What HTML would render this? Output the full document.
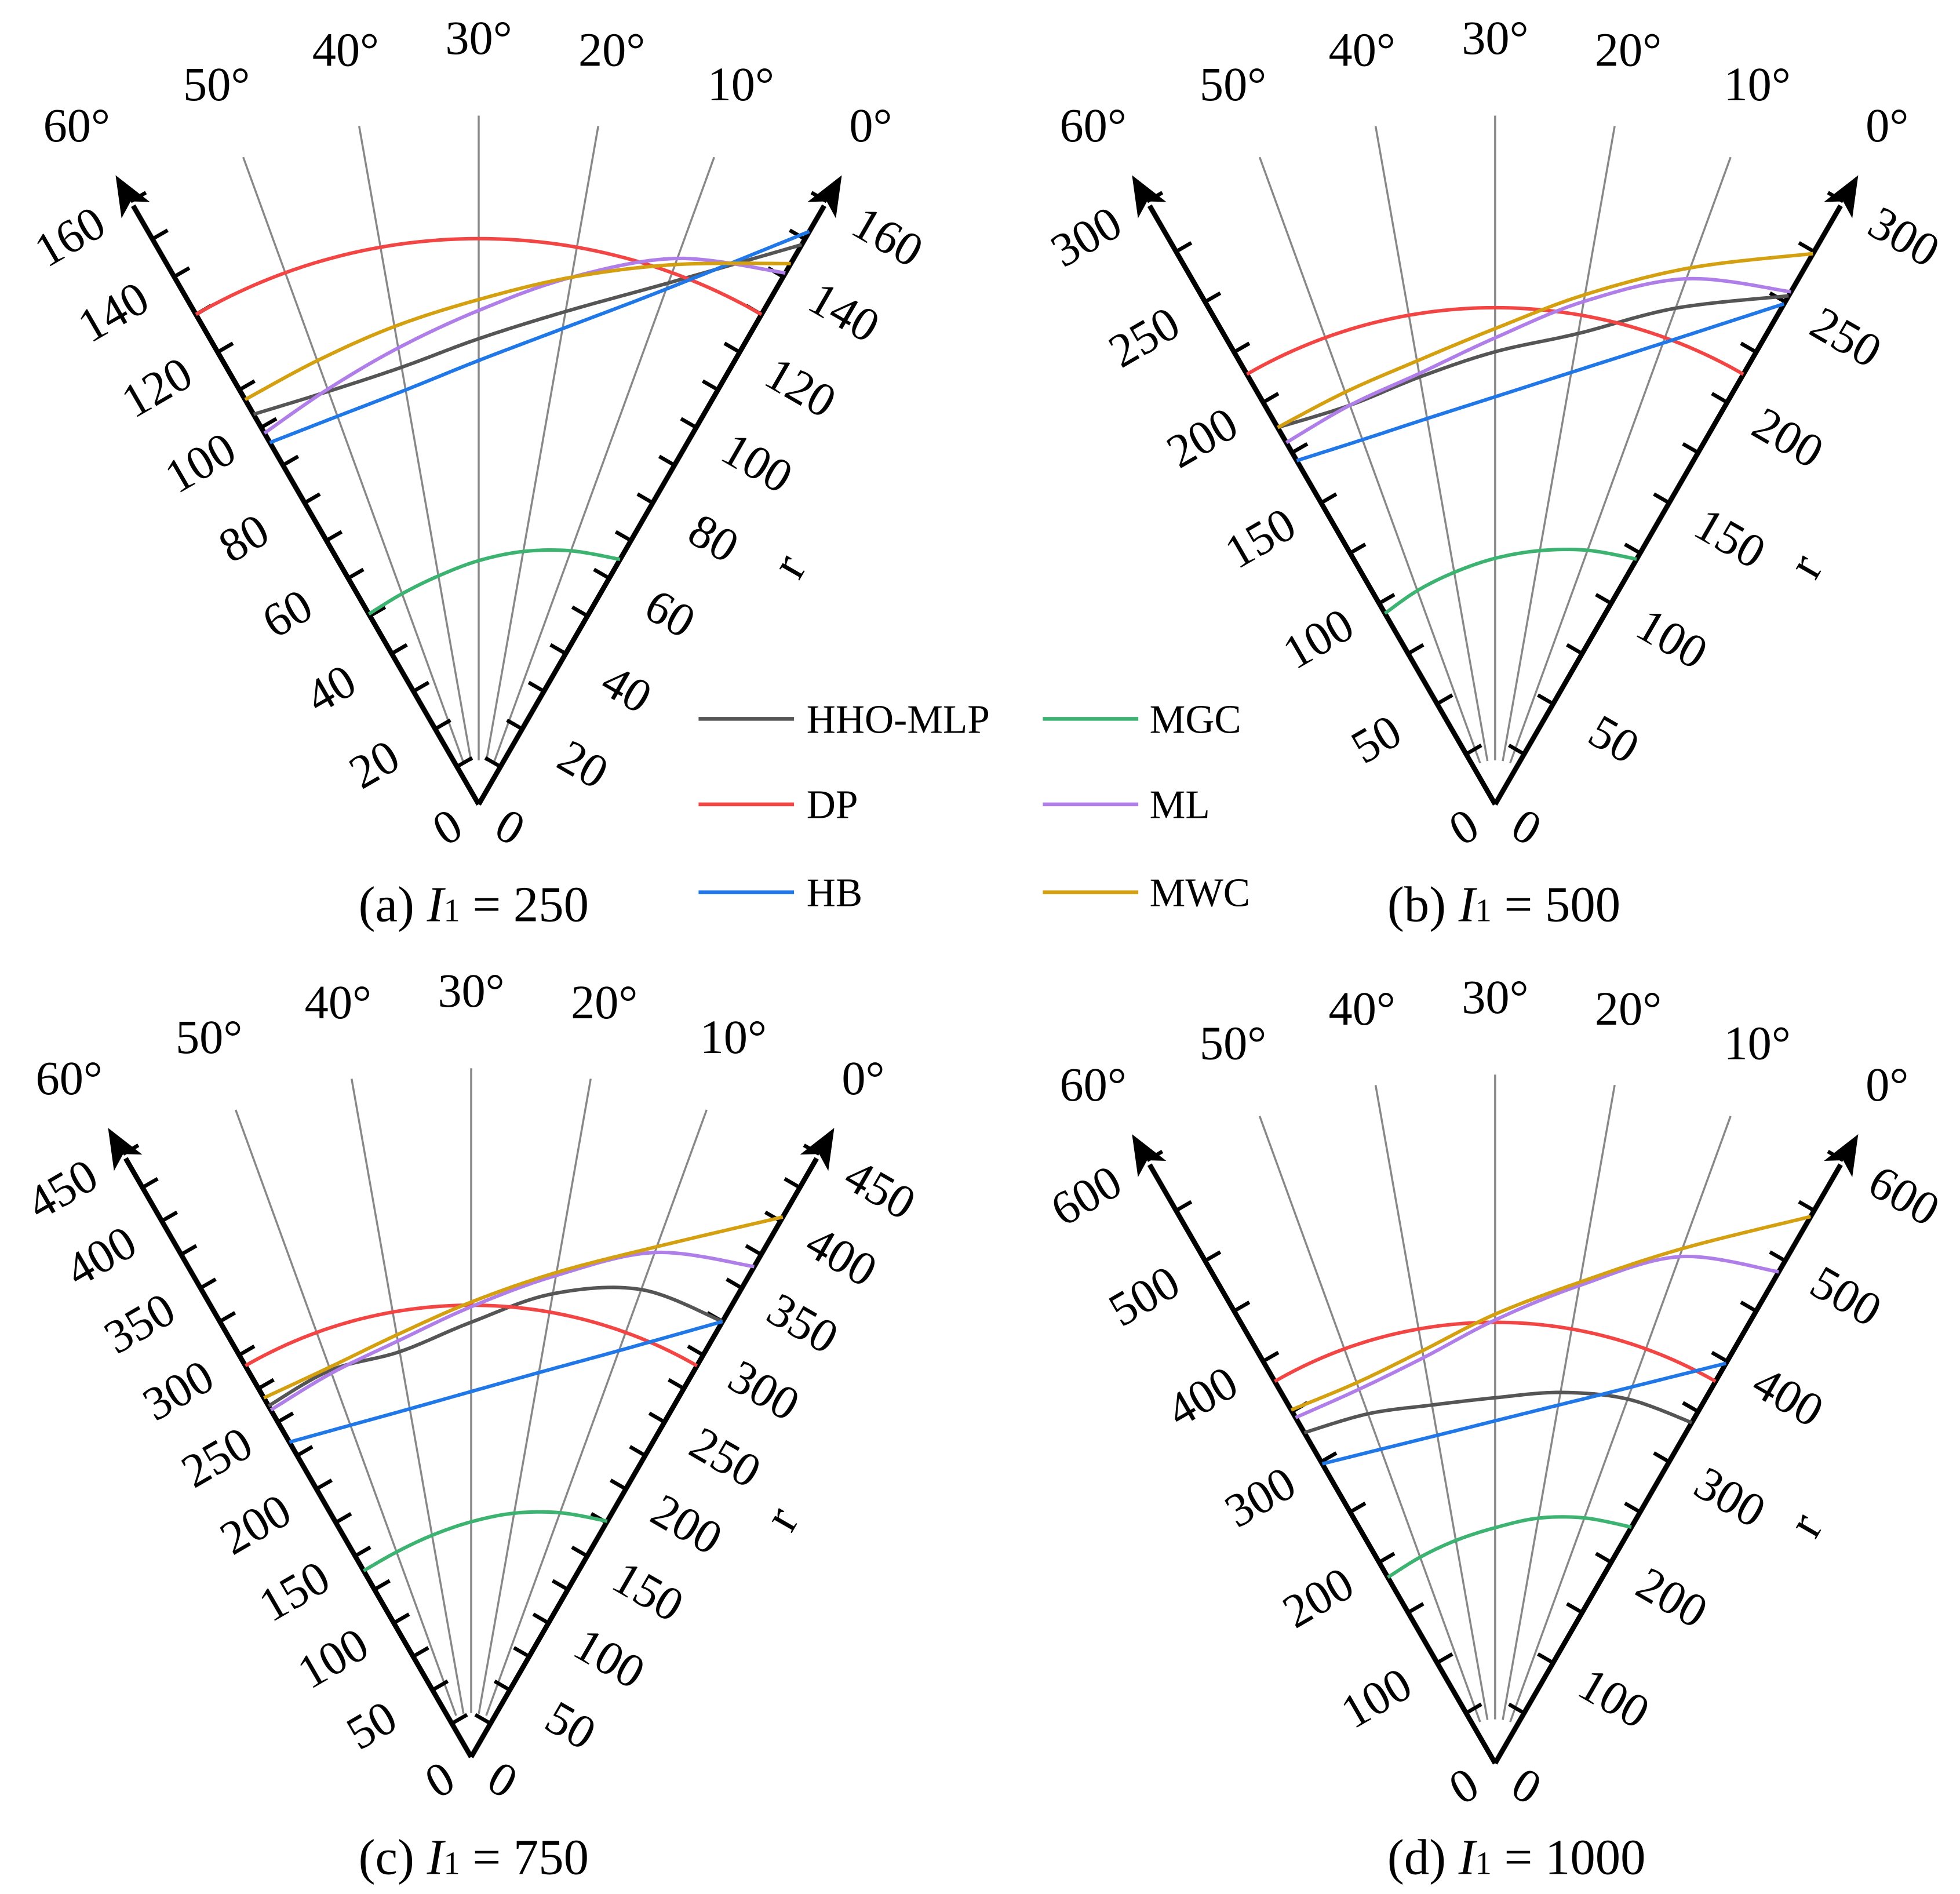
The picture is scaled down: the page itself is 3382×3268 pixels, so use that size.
<!DOCTYPE html>
<html><head><meta charset="utf-8">
<style>
html,body{margin:0;padding:0;background:#fff;}
svg{display:block;}
text{font-family:"Liberation Serif",serif;fill:#000;}
</style></head>
<body>
<svg id="chart" width="3382" height="3268" viewBox="0 0 1560 1507" preserveAspectRatio="none" xmlns="http://www.w3.org/2000/svg">
<g id="legend">
  <g><line x1="556" y1="572" x2="632" y2="572" stroke="#555" stroke-width="3"/><text x="642" y="583" font-size="32">HHO-MLP</text></g>
  <g><line x1="556" y1="640" x2="632" y2="640" stroke="#f44545" stroke-width="3"/><text x="642" y="651" font-size="32">DP</text></g>
  <g><line x1="556" y1="710" x2="632" y2="710" stroke="#1f77e8" stroke-width="3"/><text x="642" y="721" font-size="32">HB</text></g>
  <g><line x1="830" y1="572" x2="906" y2="572" stroke="#3cb371" stroke-width="3"/><text x="915" y="583" font-size="32">MGC</text></g>
  <g><line x1="830" y1="640" x2="906" y2="640" stroke="#b07ee8" stroke-width="3"/><text x="915" y="651" font-size="32">ML</text></g>
  <g><line x1="830" y1="710" x2="906" y2="710" stroke="#d4a010" stroke-width="3"/><text x="915" y="721" font-size="32">MWC</text></g>
</g>
</svg>
<script>
// Angles (degrees) at which r is sampled, 0 = right axis, 60 = left axis
const angles = [0, 10, 20, 30, 40, 50, 60];
const angleLabels = ["0°", "10°", "20°", "30°", "40°", "50°", "60°"];
const seriesNames = ["HHO-MLP", "DP", "HB", "MGC", "ML", "MWC"];
const seriesColors = ["#555555", "#f44545", "#1f77e8", "#3cb371", "#b07ee8", "#d4a010"];
// Panel (a) I1 = 250
const a_hho = [148.5, 127.5, 115, 107, 102, 101, 103.5];
const a_dp  = [130, 130, 130, 130, 130, 130, 130];
const a_hb  = [152, 126, 111, 102, 96.7, 94.9, 96];
const a_mgc = [65, 62, 59, 56, 53.3, 51.5, 50.5];
const a_ml  = [141, 133.5, 123, 113.5, 106.5, 101.5, 98.5];
const a_mwc = [143.5, 132, 123, 116, 111.5, 108.5, 107.4];
// Panel (b) I1 = 500
const b_hho = [253, 227.5, 206, 195, 187, 183, 187.5];
const b_dp  = [214, 214, 214, 214, 214, 214, 214];
const b_hb  = [249, 211.5, 189, 175.6, 168.8, 167.2, 171];
const b_mgc = [122, 116.5, 111, 106, 101.5, 98, 95];
const b_ml  = [255, 241, 220, 201, 188.5, 183, 180];
const b_mwc = [274, 246, 223, 205, 194, 189, 187.5];
// Panel (c) I1 = 750
const c_hho = [325, 321.5, 304, 281, 266, 266, 262];
const c_dp  = [292, 292, 292, 292, 292, 292, 292];
const c_hb  = [325, 279.5, 252.3, 236.2, 228.5, 228.2, 235];
const c_mgc = [176, 168, 160, 152, 145.5, 141, 139];
const c_ml  = [366, 347, 316, 291, 273, 264, 259];
const c_mwc = [403, 351, 318, 294, 277, 268, 268];
// Panel (d) I1 = 1000
const d_hho = [339, 334, 324.5, 315, 313.5, 320.5, 329];
const d_dp  = [380, 380, 380, 380, 380, 380, 380];
const d_hb  = [398, 345.2, 313.4, 295.1, 287, 288, 298];
const d_mgc = [235, 225, 214.5, 203, 195, 189, 185];
const d_ml  = [489, 464.6, 418, 382, 355, 343, 344];
const d_mwc = [544, 472, 421, 387, 361, 349, 351.6];
// Radial tick values
const a_ticks = [0, 20, 40, 60, 80, 100, 120, 140, 160];
const b_ticks = [0, 50, 100, 150, 200, 250, 300];
const c_ticks = [0, 50, 100, 150, 200, 250, 300, 350, 400, 450];
const d_ticks = [0, 100, 200, 300, 400, 500, 600];
const captionLetters = ["(a)", "(b)", "(c)", "(d)"];
const captionValues = ["250", "500", "750", "1000"];

const NS = "http://www.w3.org/2000/svg";
const svg = document.getElementById("chart");
function mk(tag, attrs, parent) {
  const e = document.createElementNS(NS, tag);
  for (const k in attrs) e.setAttribute(k, attrs[k]);
  parent.appendChild(e);
  return e;
}
const AXLEN = 554;
const panels = [
  {id:"a", ox:381, oy:640, ticks:a_ticks, series:[a_hho,a_dp,a_hb,a_mgc,a_ml,a_mwc], cx:377, cy:733},
  {id:"b", ox:1190, oy:640, ticks:b_ticks, series:[b_hho,b_dp,b_hb,b_mgc,b_ml,b_mwc], cx:1197, cy:733},
  {id:"c", ox:375, oy:1398, ticks:c_ticks, series:[c_hho,c_dp,c_hb,c_mgc,c_ml,c_mwc], cx:377, cy:1491},
  {id:"d", ox:1190, oy:1403, ticks:d_ticks, series:[d_hho,d_dp,d_hb,d_mgc,d_ml,d_mwc], cx:1207, cy:1491}
];

panels.forEach((p, pi) => {
  const rmax = p.ticks[p.ticks.length - 1];
  const step = p.ticks[1] - p.ticks[0];
  const sc = AXLEN / rmax;
  const pt = (r, th) => { const ph = (60 + th) * Math.PI / 180; return [p.ox + r * sc * Math.cos(ph), p.oy - r * sc * Math.sin(ph)]; };
  const ptPx = (d, th) => { const ph = (60 + th) * Math.PI / 180; return [p.ox + d * Math.cos(ph), p.oy - d * Math.sin(ph)]; };
  const g = mk("g", {}, svg);
  
  

  angles.forEach((th, k) => {
    if (th > 0 && th < 60) {
      const s = ptPx(35, th), e = ptPx(548, th);
      const l = mk("line", {x1:s[0], y1:s[1], x2:e[0], y2:e[1], stroke:"#888", "stroke-width":1.6}, g);
      
      
    }
    const lp = ptPx((th === 0 || th === 60) ? 624 : 610, th);
    const t = mk("text", {x:lp[0] + (th === 60 ? -8 : 0), y:lp[1] + 13, "font-size":38, "text-anchor":"middle"}, g);
    t.textContent = angleLabels[k];
    
    
  });

  [0, 60].forEach(th => {
    const e = ptPx(550, th);
    const ax = mk("line", {x1:p.ox, y1:p.oy, x2:e[0], y2:e[1], stroke:"#000", "stroke-width":4}, g);
    
    
    const tip = ptPx(578, th), b = ptPx(546, th);
    const ph = (60 + th) * Math.PI / 180, nx = Math.sin(ph) * 13, ny = Math.cos(ph) * 13;
    const ah = mk("polygon", {points:`${tip[0]},${tip[1]} ${b[0]+nx},${b[1]+ny} ${(tip[0]+b[0]*3)/4},${(tip[1]+b[1]*3)/4} ${b[0]-nx},${b[1]-ny}`, fill:"#000"}, g);
    
    
    for (let v = step / 2; v < rmax + 0.001; v += step / 2) {
      const a1 = pt(v, th);
      const ang = (60 + th + (th === 0 ? 90 : -90)) * Math.PI / 180;
      const tl = mk("line", {x1:a1[0], y1:a1[1], x2:a1[0] + 14 * Math.cos(ang), y2:a1[1] - 14 * Math.sin(ang), stroke:"#000", "stroke-width":3}, g);
      
      
    }
    p.ticks.forEach(v => {
      const a1 = pt(v, th);
      let lx, ly;
      if (v === 0) { lx = p.ox + (th === 0 ? 25 : -25); ly = p.oy + 18; }
      else if (th === 0) { lx = a1[0] + 0.866 * 56; ly = a1[1] + 0.5 * 56; }
      else { lx = a1[0] - 0.866 * 56; ly = a1[1] + 0.5 * 56; }
      const rot = th === 0 ? 30 : -30;
      const t = mk("text", {x:lx, y:ly, "font-size":38, "text-anchor":"middle", "dominant-baseline":"central", transform:`rotate(${rot} ${lx} ${ly})`}, g);
      t.textContent = String(v);
      
      
    });
  });

  const rp = pt(rmax * 0.5, 0);
  const rx = rp[0] + 108, ry = rp[1] + 50;
  const rt = mk("text", {x:rx, y:ry, "font-size":40, "text-anchor":"middle", "dominant-baseline":"central", transform:`rotate(-60 ${rx} ${ry})`}, g);
  rt.textContent = "r";
  
  

  p.series.forEach((vals, si) => {
    const P = angles.map((th, k) => pt(vals[k], th));
    const n = P.length;
    let d = "M" + P[0][0].toFixed(2) + "," + P[0][1].toFixed(2);
    for (let i = 0; i < n - 1; i++) {
      const p0 = P[Math.max(i - 1, 0)], p1 = P[i], p2 = P[i + 1], p3 = P[Math.min(i + 2, n - 1)];
      for (let s = 1; s <= 16; s++) {
        const u = s / 16, u2 = u * u, u3 = u2 * u;
        const x = 0.5 * (2 * p1[0] + (-p0[0] + p2[0]) * u + (2 * p0[0] - 5 * p1[0] + 4 * p2[0] - p3[0]) * u2 + (-p0[0] + 3 * p1[0] - 3 * p2[0] + p3[0]) * u3);
        const y = 0.5 * (2 * p1[1] + (-p0[1] + p2[1]) * u + (2 * p0[1] - 5 * p1[1] + 4 * p2[1] - p3[1]) * u2 + (-p0[1] + 3 * p1[1] - 3 * p2[1] + p3[1]) * u3);
        d += "L" + x.toFixed(2) + "," + y.toFixed(2);
      }
    }
    // DP is a circle-like arc: draw via polar sampling for exact roundness
    if (si === 1) {
      d = "";
      for (let th = 0; th <= 60; th++) {
        const k = Math.min(Math.floor(th / 10), 5), u = (th - angles[k]) / 10;
        const q = pt(vals[k] * (1 - u) + vals[k + 1] * u, th);
        d += (th === 0 ? "M" : "L") + q[0].toFixed(2) + "," + q[1].toFixed(2);
      }
    }
    const path = mk("path", {d:d, fill:"none", stroke:seriesColors[si], "stroke-width":2.8, "stroke-linejoin":"round"}, g);
    
    
  });

  const cap = mk("text", {x:p.cx, y:p.cy, "font-size":40, "text-anchor":"middle"}, g);
  
  
  const s1 = mk("tspan", {}, cap); s1.textContent = captionLetters[pi] + " ";
  const s2 = mk("tspan", {"font-style":"italic"}, cap); s2.textContent = "I";
  const s3 = mk("tspan", {"font-size":26}, cap); s3.textContent = "1";
  const s4 = mk("tspan", {}, cap); s4.textContent = " = " + captionValues[pi];
});
</script>
</body></html>
